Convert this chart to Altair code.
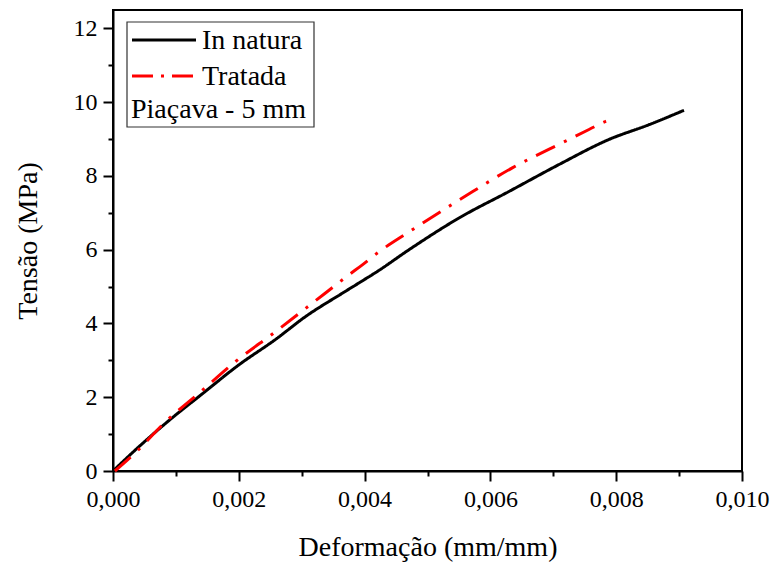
import altair as alt
import pandas as pd

# ---- data ----
innatura_strain = [0.0, 0.000413, 0.000997, 0.001367, 0.002003, 0.002586, 0.003063, 0.003646,
                   0.003911, 0.004202, 0.004706, 0.005501, 0.006296, 0.007091, 0.007886, 0.008521, 0.009078]
innatura_stress = [0.0, 0.66, 1.52, 2.02, 2.88, 3.57, 4.19, 4.82,
                   5.10, 5.41, 6.00, 6.86, 7.58, 8.31, 8.99, 9.39, 9.78]

tratada_strain = [0.00003, 0.000413, 0.000784, 0.001367, 0.00195, 0.002586, 0.003169, 0.003752,
                  0.003964, 0.004202, 0.004758, 0.005553, 0.006348, 0.007143, 0.007568, 0.007833, 0.007965]
tratada_stress = [0.0, 0.59, 1.25, 2.11, 2.97, 3.78, 4.55, 5.32,
                  5.59, 5.91, 6.54, 7.40, 8.22, 8.90, 9.26, 9.48, 9.55]

series_names = ["In natura", "Tratada"]
series_colors = ["black", "red"]
legend_note = "Piaçava - 5 mm"

x_major = [0.0, 0.002, 0.004, 0.006, 0.008, 0.010]
x_minor = [0.001, 0.003, 0.005, 0.007, 0.009]
y_major = [0, 2, 4, 6, 8, 10, 12]
y_minor = [1, 3, 5, 7, 9, 11]

x_title = "Deformação (mm/mm)"
y_title = "Tensão (MPa)"

FONT = "Liberation Serif"
LABEL_SIZE = 24
TITLE_SIZE = 28

rows = []
for i, (s, t) in enumerate(zip(innatura_strain, innatura_stress)):
    rows.append({"serie": series_names[0], "strain": s, "stress": t, "ord": i})
for i, (s, t) in enumerate(zip(tratada_strain, tratada_stress)):
    rows.append({"serie": series_names[1], "strain": s, "stress": t, "ord": i})
df = pd.DataFrame(rows)

xscale = alt.Scale(domain=[0, 0.010], nice=False, zero=False)
yscale = alt.Scale(domain=[0, 12.5], nice=False, zero=False)

common_axis = dict(labelFont=FONT, labelFontSize=LABEL_SIZE, labelColor="black", labelFlush=False,
                   labelOverlap=False, labelBound=False,
                   titleFont=FONT, titleFontSize=TITLE_SIZE, titleColor="black", titleFontWeight="normal",
                   tickColor="black", tickWidth=2, domainColor="black", domainWidth=2, grid=False)

lines = alt.Chart(df).mark_line(strokeWidth=3, strokeCap="butt", interpolate="monotone").encode(
    x=alt.X("strain:Q", scale=xscale,
            axis=alt.Axis(orient="bottom", values=x_major, title=x_title,
                          labelExpr="replace(format(datum.value, '.3f'), '.', ',')",
                          tickSize=10, labelPadding=6,
                          titleY=84, titleBaseline="alphabetic", **common_axis)),
    y=alt.Y("stress:Q", scale=yscale,
            axis=alt.Axis(orient="left", values=y_major, title=y_title, format="d",
                          tickSize=10, labelPadding=6,
                          titleAngle=-90, titleX=-77, titleBaseline="alphabetic", **common_axis)),
    color=alt.Color("serie:N", scale=alt.Scale(domain=series_names, range=series_colors), legend=None),
    strokeDash=alt.StrokeDash("serie:N", scale=alt.Scale(domain=series_names, range=[[1, 0], [21, 10, 3, 10]]),
                              legend=None),
    order="ord:Q",
)

minor = alt.Chart(df).mark_point(opacity=0).encode(
    x=alt.X("strain:Q", scale=xscale,
            axis=alt.Axis(orient="bottom", values=x_minor, labels=False, title=None, tickSize=5, domain=False,
                          tickColor="black", tickWidth=2, grid=False)),
    y=alt.Y("stress:Q", scale=yscale,
            axis=alt.Axis(orient="left", values=y_minor, labels=False, title=None, tickSize=5, domain=False,
                          tickColor="black", tickWidth=2, grid=False)),
)

one = pd.DataFrame({"k": [0]})
box = alt.Chart(one).mark_rect(fill="white", stroke="#333", strokeWidth=1.2).encode(
    x=alt.value(14), x2=alt.value(201), y=alt.value(12), y2=alt.value(117))
leg_black = alt.Chart(one).mark_rule(color=series_colors[0], strokeWidth=3).encode(
    x=alt.value(19), x2=alt.value(83), y=alt.value(30))
leg_red = alt.Chart(one).mark_rule(color=series_colors[1], strokeWidth=3, strokeDash=[21, 8, 3, 8]).encode(
    x=alt.value(19), x2=alt.value(83), y=alt.value(66))
txt_style = dict(font=FONT, fontSize=28, align="left", baseline="alphabetic", color="black")
leg_t1 = alt.Chart(one).mark_text(**txt_style).encode(
    x=alt.value(89), y=alt.value(39), text=alt.value(series_names[0]))
leg_t2 = alt.Chart(one).mark_text(**txt_style).encode(
    x=alt.value(89), y=alt.value(75), text=alt.value(series_names[1]))
leg_t3 = alt.Chart(one).mark_text(**txt_style).encode(
    x=alt.value(18), y=alt.value(108), text=alt.value(legend_note))

chart = alt.layer(lines, minor, box, leg_black, leg_red, leg_t1, leg_t2, leg_t3).resolve_axis(
    x="independent", y="independent"
).properties(
    width=629, height=461,
    autosize=alt.AutoSizeParams(type="none"),
    padding={"left": 105, "top": 2, "right": 28, "bottom": 92},
).configure_view(
    stroke="black", strokeWidth=2
)

chart.save("out.html", embed_options={"renderer": "svg", "actions": False})
